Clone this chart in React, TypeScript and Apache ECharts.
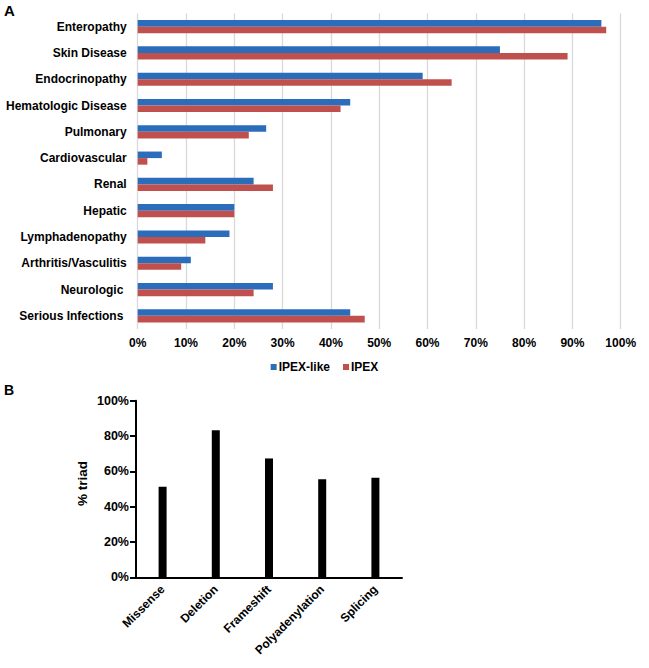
import React, { useEffect, useRef } from "react";
import * as echarts from "echarts";

const categoriesA = [
  "Enteropathy",
  "Skin Disease",
  "Endocrinopathy",
  "Hematologic Disease",
  "Pulmonary",
  "Cardiovascular",
  "Renal",
  "Hepatic",
  "Lymphadenopathy",
  "Arthritis/Vasculitis",
  "Neurologic ",
  "Serious Infections ",
];
const ipexLike = [96, 75, 59, 44, 26.6, 5, 24, 20, 19, 11, 28, 44];
const ipex = [97, 89, 65, 42, 23, 2, 28, 20, 14, 9, 24, 47];

const categoriesB = ["Missense", "Deletion", "Frameshift", "Polyadenylation", "Splicing"];
const triad = [51.3, 83.3, 67.3, 55.5, 56.3];

const FONT = '"Liberation Sans", Arial, Helvetica, sans-serif';

export default function App() {
  const ref = useRef<HTMLDivElement>(null);
  useEffect(() => {
    if (!ref.current) return;
    const chart = echarts.init(ref.current, null, { renderer: "svg" });
    const txt = { color: "#000", fontWeight: "bold" as const, fontFamily: FONT };
    chart.setOption({
      animation: false,
      backgroundColor: "#fff",
      textStyle: { fontFamily: FONT },
      graphic: [
        { type: "text", left: 4, top: 3, style: { text: "A", fontSize: 15, ...txt, fill: "#000" } },
        { type: "text", left: 4, top: 383, style: { text: "B", fontSize: 14, ...txt, fill: "#000" } },
      ],
      legend: {
        data: ["IPEX-like", "IPEX"],
        left: "center",
        top: 361,
        icon: "rect",
        itemWidth: 6,
        itemHeight: 6,
        itemGap: 13,
        padding: 0,
        textStyle: { ...txt, fontSize: 12, padding: [0, 0, 0, -3] },
      },
      grid: [
        { left: 137.7, right: 28.3, top: 13.5, height: 315.5 },
        { left: 136, width: 266, top: 400.7, height: 176.6 },
      ],
      xAxis: [
        {
          gridIndex: 0,
          type: "value",
          min: 0,
          max: 100,
          interval: 10,
          axisLine: { show: false },
          axisTick: { show: false },
          splitLine: { lineStyle: { color: "#d9d9d9", width: 1.3 } },
          axisLabel: { ...txt, fontSize: 12, margin: 8, formatter: "{value}%" },
        },
        {
          gridIndex: 1,
          type: "category",
          data: categoriesB,
          axisLine: { lineStyle: { color: "#000", width: 2 } },
          axisTick: { alignWithLabel: true, length: 6, lineStyle: { color: "#000", width: 2 } },
          axisLabel: { ...txt, fontSize: 12, rotate: 45, margin: 10, interval: 0 },
        },
      ],
      yAxis: [
        {
          gridIndex: 0,
          type: "category",
          inverse: true,
          data: categoriesA,
          axisLine: { show: false },
          axisTick: { show: false },
          axisLabel: { ...txt, fontSize: 12, margin: 11 },
        },
        {
          gridIndex: 1,
          type: "value",
          min: 0,
          max: 100,
          interval: 20,
          name: "% triad",
          nameLocation: "middle",
          nameGap: 47,
          nameTextStyle: { ...txt, fontSize: 13.5, padding: [0, 0, 0, 11] },
          axisLine: { show: true, lineStyle: { color: "#000", width: 2 } },
          axisTick: { show: true, length: 6, lineStyle: { color: "#000", width: 2 } },
          splitLine: { show: false },
          axisLabel: { ...txt, fontSize: 12.5, margin: 7, formatter: "{value}%" },
        },
      ],
      series: [
        {
          name: "IPEX-like",
          type: "bar",
          xAxisIndex: 0,
          yAxisIndex: 0,
          data: ipexLike,
          barGap: "0%",
          barCategoryGap: "50%",
          itemStyle: { color: "#2B6DBB" },
        },
        {
          name: "IPEX",
          type: "bar",
          xAxisIndex: 0,
          yAxisIndex: 0,
          data: ipex,
          barGap: "0%",
          barCategoryGap: "50%",
          itemStyle: { color: "#C0504D" },
        },
        {
          name: "triad",
          type: "bar",
          xAxisIndex: 1,
          yAxisIndex: 1,
          data: triad,
          barWidth: 8,
          itemStyle: { color: "#000" },
        },
      ],
    });
    return () => chart.dispose();
  }, []);
  return (
    <div
      ref={ref}
      style={{ position: "fixed", left: 0, top: 0, width: 649, height: 668 }}
    />
  );
}
